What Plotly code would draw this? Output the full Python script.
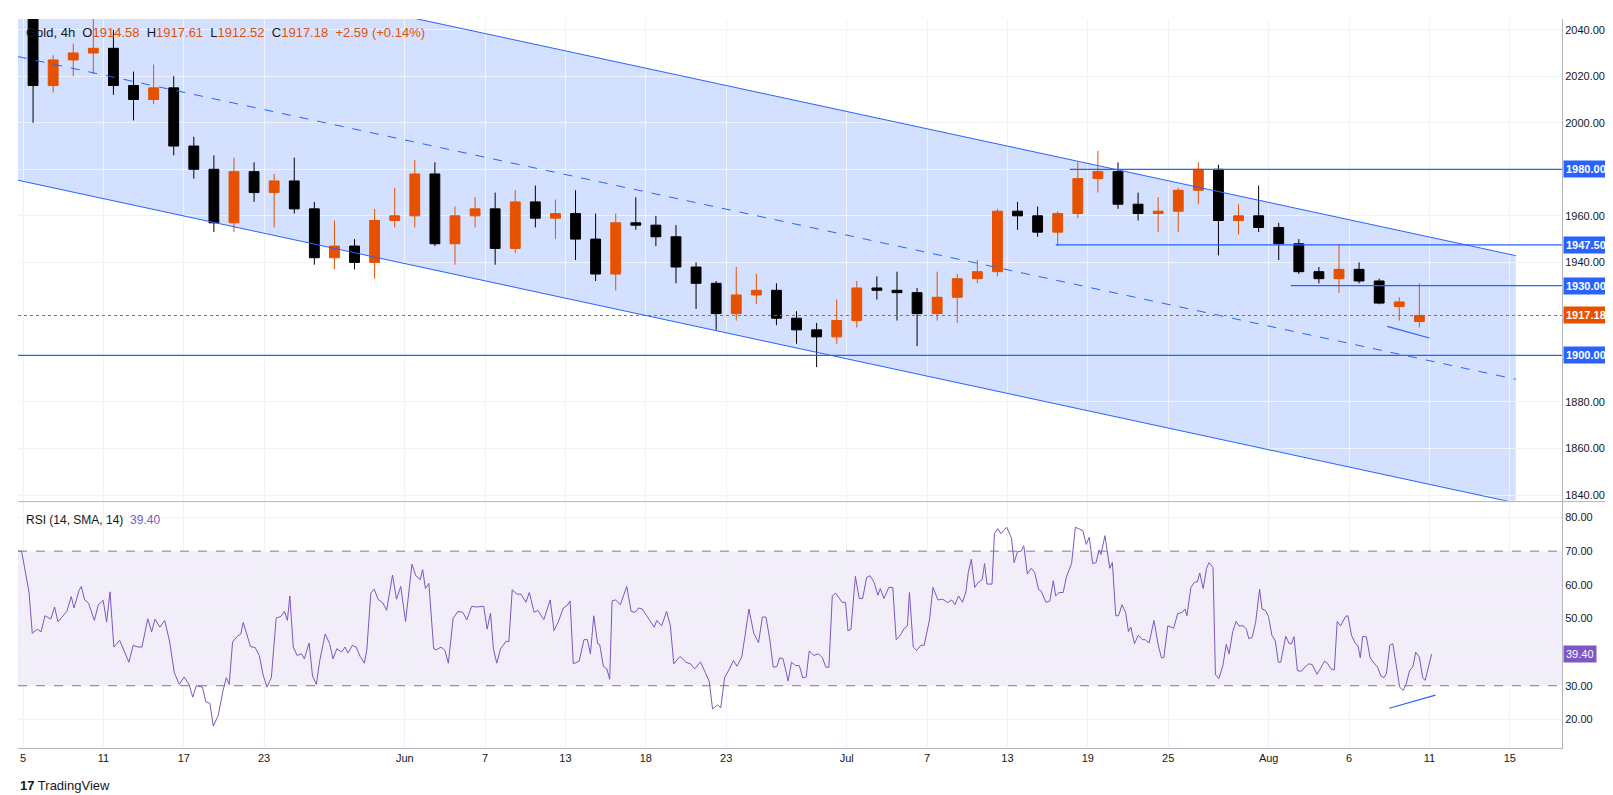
import plotly.graph_objects as go

# gold, one candle per trading day (index 0 = May 5)
day_open = [2046, 2016, 2027, 2030, 2032, 2016, 2010, 2015, 1990, 1980,
            1957, 1979, 1970, 1975, 1963, 1942, 1947, 1940, 1958, 1960,
            1978, 1948, 1960, 1963, 1946, 1966, 1959, 1961, 1950, 1935,
            1957, 1956, 1951, 1938, 1931, 1918, 1926, 1928, 1916, 1911,
            1908, 1915, 1929, 1928, 1927, 1918, 1925, 1933, 1936, 1962,
            1960, 1953, 1961, 1976, 1979, 1965, 1961, 1962, 1971, 1980,
            1958, 1960, 1955, 1948, 1936, 1933, 1937, 1932, 1921, 1914.58]
day_high = [2050, 2029, 2034, 2045, 2040, 2022, 2025, 2020, 1994, 1986,
            1985, 1983, 1978, 1985, 1966, 1958, 1950, 1963, 1972, 1984,
            1983, 1964, 1968, 1970, 1971, 1973, 1967, 1971, 1961, 1961,
            1968, 1960, 1956, 1940, 1932, 1938, 1935, 1931, 1919, 1914,
            1924, 1932, 1934, 1936, 1929, 1936, 1935, 1941, 1963, 1966,
            1964, 1962, 1983, 1988, 1983, 1970, 1968, 1972, 1983, 1982,
            1965, 1973, 1957, 1950, 1938, 1948, 1940, 1933, 1925, 1931]
day_low = [2000, 2013, 2020, 2021, 2012, 2001, 2008, 1986, 1976, 1953,
           1953, 1966, 1955, 1961, 1939, 1937, 1937, 1933, 1955, 1955,
           1947, 1939, 1955, 1939, 1944, 1955, 1950, 1941, 1932, 1928,
           1954, 1947, 1931, 1920, 1911, 1915, 1922, 1913, 1905, 1895,
           1905, 1912, 1924, 1915, 1904, 1915, 1914, 1931, 1934, 1954,
           1951, 1947, 1959, 1970, 1963, 1958, 1953, 1953, 1965, 1943,
           1952, 1953, 1941, 1935, 1931, 1927, 1931, 1922, 1915, 1912]
day_close = [2016, 2027, 2030, 2032, 2016, 2010, 2015, 1990, 1980, 1957,
             1979, 1970, 1975, 1963, 1942, 1947, 1940, 1958, 1960, 1978,
             1948, 1960, 1963, 1946, 1966, 1959, 1961, 1950, 1935, 1957,
             1956, 1951, 1938, 1931, 1918, 1926, 1928, 1916, 1911, 1908,
             1915, 1929, 1928, 1927, 1918, 1925, 1933, 1936, 1962, 1960,
             1953, 1961, 1976, 1979, 1965, 1961, 1962, 1971, 1980, 1958,
             1960, 1955, 1948, 1936, 1933, 1937, 1932, 1922.5, 1923, 1917.18]

rsi_t = [-0.31, -0.07, 0.18, 0.3, 0.46, 0.71, 0.9, 1.09, 1.38, 1.57, 1.74, 1.98, 2.18, 2.4, 2.54,
         2.78, 2.9, 3.07, 3.26, 3.55, 3.75, 3.99, 4.16, 4.33, 4.52, 4.81, 5.07, 5.27, 5.48, 5.72,
         5.92, 6.21, 6.4, 6.57, 6.81, 7.05, 7.29, 7.53, 7.78, 8.02, 8.26, 8.45, 8.62, 8.93, 9.1,
         9.3, 9.47, 9.71, 9.95, 10.12, 10.26, 10.43, 10.67, 10.84, 10.96, 11.15, 11.32, 11.56, 11.76, 11.95,
         12.14, 12.36, 12.6, 12.84, 13.01, 13.16, 13.28, 13.45, 13.64, 13.86, 14.0, 14.24, 14.41, 14.6, 14.77,
         15.04, 15.26, 15.43, 15.62, 15.86, 16.03, 16.17, 16.39, 16.58, 16.78, 16.99, 17.11, 17.31, 17.48, 17.67,
         17.91, 18.1, 18.39, 18.59, 18.8, 19.04, 19.36, 19.55, 19.77, 19.89, 20.03, 20.2, 20.44, 20.57, 20.81,
         21.0, 21.17, 21.41, 21.65, 21.89, 22.09, 22.33, 22.57, 22.93, 23.1, 23.27, 23.41, 23.58, 23.77, 24.06,
         24.18, 24.35, 24.59, 24.79, 25.03, 25.2, 25.44, 25.63, 25.92, 26.24, 26.43, 26.65, 26.89, 27.08, 27.23,
         27.39, 27.68, 27.92, 28.09, 28.24, 28.41, 28.6, 28.7, 28.89, 29.06, 29.2, 29.32, 29.49, 29.73, 30.05,
         30.27, 30.46, 30.63, 30.82, 31.06, 31.3, 31.42, 31.54, 31.79, 32.03, 32.22, 32.39, 32.7, 32.99, 33.23,
         33.43, 33.72, 33.96, 34.15, 34.32, 34.56, 34.73, 34.92, 35.16, 35.36, 35.53, 35.77, 35.94, 36.13, 36.37,
         36.61, 36.8, 36.98, 37.17, 37.34, 37.52, 37.66, 37.83, 38.08, 38.25, 38.45, 38.64, 38.81, 38.98, 39.13,
         39.37, 39.59, 39.79, 39.96, 40.11, 40.28, 40.45, 40.77, 40.94, 41.06, 41.21, 41.43, 41.62, 41.79, 41.99,
         42.16, 42.36, 42.55, 42.67, 42.85, 43.09, 43.29, 43.46, 43.63, 43.87, 44.02, 44.12, 44.31, 44.48, 44.68,
         44.85, 45.0, 45.12, 45.29, 45.54, 45.78, 46.02, 46.22, 46.39, 46.56, 46.76, 46.93, 47.05, 47.2, 47.37,
         47.54, 47.74, 47.86, 47.98, 48.23, 48.35, 48.52, 48.67, 48.96, 49.2, 49.33, 49.5, 49.69, 49.81, 49.99,
         50.18, 50.35, 50.55, 50.67, 50.91, 51.11, 51.28, 51.4, 51.57, 51.77, 51.94, 52.19, 52.38, 52.75, 52.92,
         53.07, 53.24, 53.41, 53.56, 53.65, 53.85, 54.09, 54.22, 54.39, 54.53, 54.7, 54.88, 55.02, 55.14, 55.32,
         55.51, 55.71, 55.85, 56.05, 56.29, 56.49, 56.66, 56.78, 56.98, 57.27, 57.47, 57.69, 57.83, 57.93, 58.13,
         58.3, 58.45, 58.57, 58.74, 58.91, 59.03, 59.23, 59.35, 59.52, 59.72, 59.89, 60.03, 60.21, 60.38, 60.52,
         60.74, 60.89, 61.01, 61.18, 61.35, 61.55, 61.67, 61.84, 61.99, 62.16, 62.33, 62.48, 62.6, 62.85, 63.02,
         63.14, 63.26, 63.43, 63.63, 63.8, 63.99, 64.17, 64.41, 64.61, 64.78, 64.92, 65.1, 65.27, 65.41, 65.58,
         65.83, 65.95, 66.12, 66.32, 66.44, 66.56, 66.68, 66.86, 67.05, 67.25, 67.42, 67.59, 67.74, 67.86, 68.03,
         68.18, 68.35, 68.52, 68.69, 68.84, 69.01, 69.18, 69.32, 69.5, 69.67, 69.79, 70.11]
rsi_val = [70, 70, 61.7, 57.7, 45.6, 46.8, 46, 50.8, 49.8, 53.4, 49, 50.6, 52.1, 56.5, 53.1,
           58.2, 59.5, 55.5, 54.6, 49.4, 54.1, 55.4, 48.9, 57.9, 41.5, 43.5, 40, 37, 42, 41.5,
           41.5, 49.9, 46, 49.8, 47.4, 49.4, 43.3, 33.9, 30.4, 32.6, 30.4, 26.6, 30, 29.6, 25.2,
           24.8, 18, 21.1, 28.4, 32.4, 30.4, 43, 44.7, 45.4, 48.8, 45.4, 41.7, 41.3, 39, 33.2,
           29.6, 32.4, 50.1, 50.6, 52.1, 49.4, 56.7, 41.5, 39, 39.5, 38, 42.7, 32.9, 30.4, 37.5,
           45.4, 42.5, 38, 41, 40, 41.5, 39.7, 42, 41.5, 38.7, 36.7, 40.5, 57.5, 58.7, 55.7,
           54.6, 52.4, 62.9, 55.7, 59.5, 49.1, 66.1, 62.7, 61.5, 64.5, 58.9, 60.4, 41, 40.7, 41.5,
           40.5, 36.7, 50.1, 52.1, 51.8, 49.6, 53.6, 53.4, 53.6, 46.8, 51.6, 41, 36.7, 41, 43.3,
           43, 58.5, 57.2, 57.2, 54.8, 57.7, 51.8, 52.4, 49.6, 55.5, 46.4, 49.1, 53.1, 53.8, 55.2,
           36.5, 37.3, 43.7, 43.7, 39.5, 50.8, 42.5, 42.3, 35.7, 35, 31.9, 55.2, 55.5, 54.1, 59.5,
           52.1, 51.8, 53.1, 52.8, 50.6, 48.1, 47.4, 49.4, 47.8, 52.1, 47.8, 36.5, 38.7, 37, 36.5,
           35, 37.1, 33.9, 31.4, 23.1, 24.3, 23.5, 32.4, 35, 37.5, 35.8, 38.5, 45, 52.8, 45.6,
           42.8, 50.4, 50.4, 43.7, 35.5, 35.7, 38.3, 38, 31.4, 37, 36, 36, 32.4, 32.6, 40.3,
           39, 39.5, 38.3, 35.5, 35.5, 56.7, 57.5, 54.8, 54.8, 46.3, 46.8, 62.5, 55.9, 55.9, 62.2,
           62.7, 60.7, 56.9, 58.9, 55.9, 59.2, 59.2, 43.7, 44.7, 47.1, 47.8, 57.7, 41.5, 40.5, 42,
           42, 46.1, 49.6, 59.2, 55.5, 55.7, 54.7, 55.5, 54.1, 56.7, 54.8, 57.9, 63.7, 67.6, 59.2,
           60.7, 61.5, 66.3, 60.2, 60.2, 75.2, 76.7, 75.2, 77.1, 73.8, 66.6, 69.8, 70, 71.6, 63.2,
           64.9, 63.7, 58.5, 58.2, 54.8, 55.2, 61.2, 56.7, 57.7, 57.7, 62.5, 66.3, 77.1, 76.1, 72,
           74.1, 66.3, 66.6, 70.3, 69, 74.6, 64.9, 66.6, 50.8, 50.8, 54.1, 51.8, 46.1, 47.4, 42.5,
           45, 43.7, 43.7, 42.7, 49.4, 42.5, 38.3, 38.3, 47.8, 47.1, 51.4, 51.8, 52.8, 50.8, 59.2,
           60.7, 60.9, 63.5, 58.9, 64.9, 66.6, 65.1, 33.3, 32.1, 36, 42.3, 39.5, 46.1, 49.1, 47.8,
           47.8, 46.8, 44, 44.4, 48.8, 58.7, 52.8, 52.4, 50.6, 45, 43.3, 37, 37, 44.7, 42.5,
           42.5, 44.6, 34.5, 34.3, 35.5, 36.5, 36.3, 33.4, 35.5, 37.3, 36.7, 35, 34.7, 49.1, 47.8,
           50.6, 50.8, 45, 42.5, 42, 38.3, 44.6, 44.6, 38.3, 36.7, 35.5, 32.9, 32.4, 33.6, 42,
           42.5, 35.7, 29.6, 28.6, 30.4, 34.4, 35.7, 40, 38.5, 32.3, 31.6, 39.4]

# drawn objects
channel_t = [-0.25, 74.3]
channel_upper = [2081.6, 1942.9]
channel_lower = [1975.3, 1836.6]
level_prices = [1980.00, 1947.50, 1930.00, 1900.00]
level_start = [52.1, 51.4, 63.1, -0.25]
price_trend_t = [67.9, 70.0]
price_trend_p = [1912.5, 1907.5]
rsi_trend_t = [68.0, 70.3]
rsi_trend_v = [23.3, 27.2]
last_price = 1917.18
last_rsi = 39.40
price_ticks = [1840, 1860, 1880, 1900, 1940, 1960, 1980, 2000, 2020, 2040]

tick_pos = [0, 4, 8, 12, 19, 23, 27, 31, 35, 41, 45, 49, 53, 57, 62, 66, 70, 74]
tick_text = ['5', '11', '17', '23', 'Jun', '7', '13', '18', '23', 'Jul', '7', '13', '19', '25',
             'Aug', '6', '11', '15']

BLUE = '#2962ff'
ORANGE = '#e65100'
PURPLE = '#7e57c2'
GRID = '#f0f3fa'
XR = [-0.25, 76.6]

fig = go.Figure()

# channel fill sits below the candles as a shape
fig.add_shape(type='path', xref='x', yref='y', layer='below', line_width=0,
              fillcolor='rgba(41,98,255,0.2)',
              path='M %s,%s L %s,%s L %s,%s L %s,%s Z' % (
                  channel_t[0], channel_upper[0], channel_t[1], channel_upper[1],
                  channel_t[1], channel_lower[1], channel_t[0], channel_lower[0]))
mid = [(u + l) / 2 for u, l in zip(channel_upper, channel_lower)]
for ys, dash in [(channel_upper, 'solid'), (channel_lower, 'solid'), (mid, 'dash')]:
    fig.add_trace(go.Scatter(x=channel_t, y=ys, mode='lines',
                             line=dict(color=BLUE, width=1, dash=dash), hoverinfo='skip'))

for p, s in zip(level_prices, level_start):
    fig.add_trace(go.Scatter(x=[s, XR[1]], y=[p, p], mode='lines',
                             line=dict(color=BLUE, width=1.2), hoverinfo='skip'))
fig.add_trace(go.Scatter(x=price_trend_t, y=price_trend_p, mode='lines',
                         line=dict(color=BLUE, width=1.2)))
fig.add_trace(go.Scatter(x=XR, y=[last_price, last_price], mode='lines',
                         line=dict(color=ORANGE, width=1, dash='dot')))

fig.add_trace(go.Candlestick(
    x=[i + 0.5 for i in range(len(day_open))],
    open=day_open, high=day_high, low=day_low, close=day_close,
    increasing=dict(line=dict(color=ORANGE, width=1), fillcolor=ORANGE),
    decreasing=dict(line=dict(color='#000000', width=1), fillcolor='#000000'),
    whiskerwidth=0, opacity=1))

# rsi pane
fig.add_trace(go.Scatter(x=rsi_t, y=rsi_val, mode='lines', line=dict(color=PURPLE, width=1),
                         xaxis='x2', yaxis='y2'))
fig.add_trace(go.Scatter(x=rsi_trend_t, y=rsi_trend_v, mode='lines', line=dict(color=BLUE, width=1.2),
                         xaxis='x2', yaxis='y2'))

fig.add_shape(type='rect', xref='x2', yref='y2', x0=XR[0], x1=XR[1], y0=30, y1=70,
              fillcolor='rgba(126,87,194,0.1)', line_width=0, layer='below')
for lv in [30, 70]:
    fig.add_shape(type='line', xref='x2', yref='y2', x0=XR[0], x1=XR[1], y0=lv, y1=lv,
                  line=dict(color='#787b86', width=1, dash='dash'))

# price-scale badges
for p in level_prices:
    fig.add_annotation(xref='paper', yref='y', x=1.0, y=p, xanchor='left', text='<b>%.2f</b>' % p,
                       showarrow=False, bgcolor=BLUE, font=dict(color='white', size=11),
                       borderpad=2, xshift=1)
fig.add_annotation(xref='paper', yref='y', x=1.0, y=last_price, xanchor='left',
                   text='<b>%.2f</b>' % last_price, showarrow=False, bgcolor=ORANGE,
                   font=dict(color='white', size=11), borderpad=2, xshift=1)
fig.add_annotation(xref='paper', yref='y2', x=1.0, y=last_rsi, xanchor='left',
                   text='%.2f' % last_rsi, showarrow=False, bgcolor=PURPLE,
                   font=dict(color='white', size=11), borderpad=2, xshift=1)

o = '<span style="color:%s">' % ORANGE
fig.add_annotation(xref='paper', yref='paper', x=0.004, y=0.995, xanchor='left', yanchor='top',
                   showarrow=False, font=dict(size=13, color='#131722'),
                   text='Gold, 4h  O%s1914.58</span>  H%s1917.61</span>  L%s1912.52</span>  '
                        'C%s1917.18</span>  %s+2.59 (+0.14%%)</span>' % (o, o, o, o, o))
fig.add_annotation(xref='paper', yref='paper', x=0.004, y=0.325, xanchor='left', yanchor='top',
                   showarrow=False, font=dict(size=12, color='#131722'),
                   text='RSI (14, SMA, 14)  <span style="color:%s">39.40</span>' % PURPLE)
fig.add_annotation(xref='paper', yref='paper', x=0.0, y=-0.052, xanchor='left', yanchor='middle',
                   showarrow=False, font=dict(size=13, color='#131722'),
                   text='<b>17</b> TradingView')

axis_common = dict(showgrid=True, gridcolor=GRID, zeroline=False, range=XR,
                   tickvals=tick_pos, ticktext=tick_text)
fig.update_layout(
    width=1613, height=795,
    margin=dict(l=10, r=59, t=11, b=55),
    paper_bgcolor='white', plot_bgcolor='white',
    showlegend=False,
    font=dict(family='Liberation Sans, Arial', size=11, color='#131722'),
    xaxis=dict(axis_common, anchor='y', showticklabels=False, rangeslider=dict(visible=False)),
    xaxis2=dict(axis_common, anchor='y2', matches='x', showline=True, linecolor='#b2b5be',
                ticks='', tickfont=dict(size=11)),
    yaxis=dict(domain=[0.339, 1], side='right', range=[1837.5, 2044.6], tickvals=price_ticks,
               tickformat='.2f', showgrid=True, gridcolor=GRID, zeroline=False,
               showline=True, linecolor='#b2b5be'),
    yaxis2=dict(domain=[0, 0.337], side='right', range=[11.5, 84.5], dtick=10, tick0=20,
                tickformat='.2f', showgrid=True, gridcolor=GRID, zeroline=False,
                showline=True, linecolor='#b2b5be'),
)
fig.add_shape(type='line', xref='paper', yref='paper', x0=0, x1=1.04, y0=0.338, y1=0.338,
              line=dict(color='#b2b5be', width=1))

fig.write_html("out.html")
